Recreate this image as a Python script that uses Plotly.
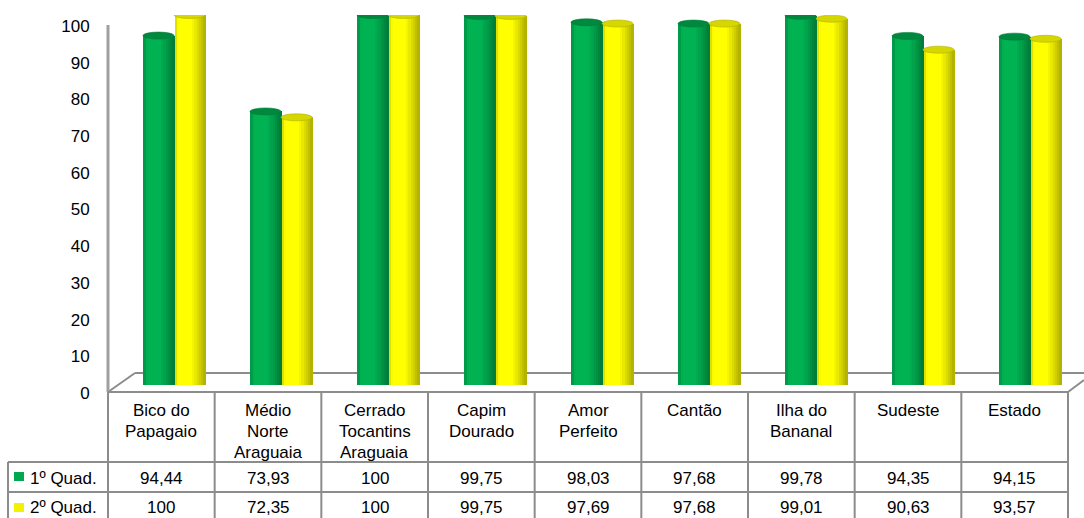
import plotly.graph_objects as go

W, H = 1084, 518

categories = ["Bico do\nPapagaio", "Médio\nNorte\nAraguaia", "Cerrado\nTocantins\nAraguaia",
              "Capim\nDourado", "Amor\nPerfeito", "Cantão", "Ilha do\nBananal", "Sudeste", "Estado"]
series_names = ["1º Quad.", "2º Quad."]
q1_values = [94.44, 73.93, 100, 99.75, 98.03, 97.68, 99.78, 94.35, 94.15]
q2_values = [100, 72.35, 100, 99.75, 97.69, 97.68, 99.01, 90.63, 93.57]
y_ticks = [0, 10, 20, 30, 40, 50, 60, 70, 80, 90, 100]

FONT = "Liberation Sans, Arial, sans-serif"
GRAY = "#8c8c8c"


def px(x):
    return x / W


def py(y):
    return 1 - y / H


def fmt(v):
    if float(v).is_integer():
        return str(int(v))
    return f"{v:.2f}".replace(".", ",")


def shade(base, f):
    return "rgb(%d,%d,%d)" % tuple(min(255, int(round(c * f))) for c in base)


def profile(t):
    # cylinder lighting: darker left rim, bright middle, darker right side
    if t < 0.12:
        return 0.82 + (t / 0.12) * 0.18
    if t < 0.55:
        return 1.0
    return 1.0 - (t - 0.55) / 0.45 * 0.32


n = len(categories)
xs = list(range(n))
BW = 0.29
NSTRIP = 14

fig = go.Figure()

series = [
    (q1_values, (0, 178, 82), -BW, "rgb(0,136,62)"),
    (q2_values, (255, 255, 0), 0.0, "rgb(214,214,0)"),
]

# floor and wall (behind bars)
shapes = [
    dict(type="line", xref="paper", yref="paper", x0=px(108), y0=py(392), x1=px(135), y1=py(373),
         line=dict(color=GRAY, width=2), layer="below"),
    dict(type="line", xref="paper", yref="paper", x0=px(135), y0=py(373), x1=px(1084), y1=py(373),
         line=dict(color=GRAY, width=2), layer="below"),
    dict(type="line", xref="paper", yref="paper", x0=px(1068), y0=py(392), x1=px(1084), y1=py(380),
         line=dict(color=GRAY, width=2), layer="below"),
    dict(type="line", xref="paper", yref="paper", x0=px(108), y0=py(25), x1=px(108), y1=py(392),
         line=dict(color="#a0a0a0", width=3), layer="below"),
]

ED = 0.95  # ellipse half-height in data units
for vals, base, left, topcol in series:
    for i, v in enumerate(vals):
        shapes.append(dict(type="circle", xref="x", yref="y", x0=i + left, x1=i + left + BW,
                           y0=-ED, y1=ED, fillcolor=shade(base, 0.85), line=dict(width=0), layer="below"))
    for k in range(NSTRIP):
        t = (k + 0.5) / NSTRIP
        fig.add_trace(go.Bar(
            x=xs, y=vals, offset=left + k * BW / NSTRIP, width=BW / NSTRIP * 1.2,
            marker=dict(color=shade(base, profile(t)), line=dict(width=0)),
            hoverinfo="skip", showlegend=False,
        ))
    for i, v in enumerate(vals):
        shapes.append(dict(type="circle", xref="x", yref="y", x0=i + left, x1=i + left + BW,
                           y0=v - ED, y1=v + ED, fillcolor=topcol,
                           line=dict(width=0.6, color=shade(base, 0.7)), layer="above"))

# trace that realises the tick-label axis
fig.add_trace(go.Scatter(x=[None], y=[None], yaxis="y2", showlegend=False, hoverinfo="skip"))

# data table grid
col_w = (1068 - 108) / n
for k in range(n + 1):
    xk = 108 + k * col_w
    shapes.append(dict(type="line", xref="paper", yref="paper", x0=px(xk), x1=px(xk), y0=py(392), y1=py(530),
                       line=dict(color=GRAY, width=2)))
shapes += [
    dict(type="line", xref="paper", yref="paper", x0=px(108), x1=px(1068), y0=py(392), y1=py(392),
         line=dict(color=GRAY, width=2)),
    dict(type="line", xref="paper", yref="paper", x0=px(8), x1=px(1068), y0=py(462), y1=py(462),
         line=dict(color=GRAY, width=2)),
    dict(type="line", xref="paper", yref="paper", x0=px(8), x1=px(1068), y0=py(492), y1=py(492),
         line=dict(color=GRAY, width=2)),
    dict(type="line", xref="paper", yref="paper", x0=px(8), x1=px(8), y0=py(462), y1=py(530),
         line=dict(color=GRAY, width=2)),
]
# legend keys
for r, (vals, base, left, topcol) in enumerate(series):
    y0 = 472 + r * 31
    shapes.append(dict(type="rect", xref="paper", yref="paper", x0=px(14), x1=px(24), y0=py(y0), y1=py(y0 + 9),
                       fillcolor=shade(base, 0.95), line=dict(width=0)))

annotations = []
for i, cat in enumerate(categories):
    cx = 108 + (i + 0.5) * col_w
    for j, line in enumerate(cat.split("\n")):
        annotations.append(dict(x=px(cx), y=py(410 + j * 21), xref="paper", yref="paper", text=line,
                                showarrow=False, xanchor="center", yanchor="middle",
                                font=dict(family=FONT, size=17, color="black")))
row_y = [478, 507]
for r, vals in enumerate([q1_values, q2_values]):
    annotations.append(dict(x=px(28), y=py(row_y[r]), xref="paper", yref="paper", text=series_names[r],
                            showarrow=False, xanchor="left", yanchor="middle",
                            font=dict(family=FONT, size=17, color="black")))
    for i, v in enumerate(vals):
        cx = 108 + (i + 0.5) * col_w
        annotations.append(dict(x=px(cx), y=py(row_y[r]), xref="paper", yref="paper", text=fmt(v),
                                showarrow=False, xanchor="center", yanchor="middle",
                                font=dict(family=FONT, size=17, color="black")))

fig.update_layout(
    width=W, height=H, autosize=False,
    margin=dict(l=0, r=0, t=0, b=0, pad=0, autoexpand=False),
    paper_bgcolor="white", plot_bgcolor="rgba(0,0,0,0)",
    barmode="overlay", bargap=0,
    showlegend=False,
    xaxis=dict(domain=[px(120.5), px(1083.5)], range=[-0.5, n - 0.5], visible=False, automargin=False),
    yaxis=dict(domain=[py(385), py(15)], range=[0, 100], visible=False, automargin=False),
    yaxis2=dict(domain=[py(393), py(26)], range=[0, 100], anchor="free", position=px(108),
                tickvals=y_ticks, ticks="outside", ticklen=15, automargin=False,
                tickcolor="rgba(0,0,0,0)", showgrid=False, zeroline=False, showline=False,
                tickfont=dict(family=FONT, size=17, color="black")),
    shapes=shapes,
    annotations=annotations,
)

fig.write_html("out.html")
